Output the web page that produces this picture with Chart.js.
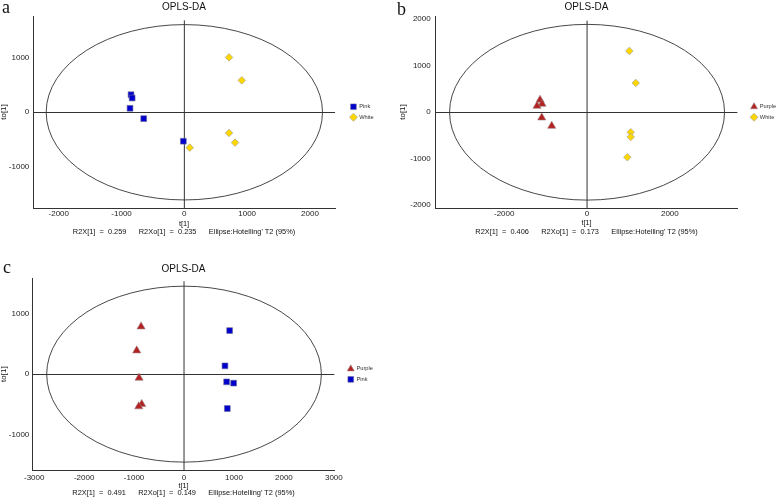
<!DOCTYPE html>
<html>
<head>
<meta charset="utf-8">
<script src="https://cdn.jsdelivr.net/npm/chart.js@4.4.1/dist/chart.umd.min.js"></script>
<style>
html, body { margin: 0; padding: 0; background: #fff; overflow: hidden; width: 777px; height: 499px; position: relative; }
canvas { position: absolute; display: block; }
.tag { position: absolute; font-family: 'Liberation Serif', 'Times New Roman', serif; font-size: 18px; line-height: 18px; color: #111; }
</style>
</head>
<body>
<canvas id="pa" width="390" height="250" style="left:0;top:0"></canvas>
<canvas id="pb" width="400" height="250" style="left:390px;top:0"></canvas>
<canvas id="pc" width="390" height="249" style="left:0;top:250px"></canvas>
<div class="tag" style="left:2px;top:-2px">a</div>
<div class="tag" style="left:397px;top:0px">b</div>
<div class="tag" style="left:3px;top:258px">c</div>
<script>
// scores
const aPinkX = [-849, -831, -865, -647, -16];
const aPinkY = [323, 262, 73, -117, -532];
const aWhiteX = [712, 914, 712, 807, 86];
const aWhiteY = [1009, 587, -380, -558, -650];

const bPurpleX = [-1135, -1087, -1208, -1094, -853];
const bPurpleY = [265, 178, 135, -116, -295];
const bWhiteX = [1022, 1176, 1055, 1055, 973];
const bWhiteY = [1318, 630, -430, -531, -968];

const cPurpleX = [-860, -947, -900, -847, -907];
const cPurpleY = [784, 389, -61, -494, -533];
const cPinkX = [913, 820, 853, 993, 867];
const cPinkY = [719, 137, -127, -148, -566];

// tick labels
const aXTicks = [-2000, -1000, 0, 1000, 2000];
const aYTicks = [-1000, 0, 1000];
const bXTicks = [-2000, 0, 2000];
const bYTicks = [-2000, -1000, 0, 1000, 2000];
const cXTicks = [-3000, -2000, -1000, 0, 1000, 2000, 3000];
const cYTicks = [-1000, 0, 1000];

// Hotelling T2 ellipse half axes [t1, to1]
const aEllipse = [2200, 1612];
const bEllipse = [3320, 1890];
const cEllipse = [2750, 1450];

const aStats = ['0.259', '0.235'];
const bStats = ['0.406', '0.173'];
const cStats = ['0.491', '0.149'];

const FONT = "'Liberation Sans', Arial, sans-serif";

const groupStyle = {
    Pink:   { pointStyle: 'rect',     pointRadius: 4.1, backgroundColor: '#0000cc', borderColor: '#6a6a9a' },
    White:  { pointStyle: 'rectRot',  pointRadius: 3.8, backgroundColor: '#ffd700', borderColor: '#9a9a9a' },
    Purple: { pointStyle: 'triangle', pointRadius: 4.7, backgroundColor: '#b22222', borderColor: '#a08080' }
};

function pts(xs, ys) {
    return xs.map((x, i) => ({ x: x, y: ys[i] }));
}

const ellipsePlugin = {
    id: 'hotelling',
    beforeDatasetsDraw(chart, args, opts) {
        const ctx = chart.ctx;
        const xs = chart.scales.x, ys = chart.scales.y;
        const cx = xs.getPixelForValue(0), cy = ys.getPixelForValue(0);
        const rx = xs.getPixelForValue(opts.a) - cx;
        const ry = cy - ys.getPixelForValue(opts.b);
        ctx.save();
        ctx.beginPath();
        ctx.ellipse(cx, cy, rx, ry, 0, 0, Math.PI * 2);
        ctx.strokeStyle = '#333';
        ctx.lineWidth = 0.9;
        ctx.stroke();
        ctx.restore();
    }
};

function makePanel(id, p) {
    const sets = p.groups.map(g => Object.assign({
        label: g.name,
        data: pts(g.x, g.y),
        borderWidth: 0.6,
        pointHoverRadius: groupStyle[g.name].pointRadius
    }, groupStyle[g.name]));
    sets.push({
        label: 'v0',
        guide: true,
        data: [{ x: 0, y: p.yMin }, { x: 0, y: p.vTop }],
        showLine: true,
        pointRadius: 0,
        borderColor: '#333',
        borderWidth: 1
    });
    const sub = 'R2X[1]  =  ' + p.stats[0] + '      R2Xo[1]  =  ' + p.stats[1] + "      Ellipse:Hotelling' T2 (95%)";

    return new Chart(document.getElementById(id), {
        type: 'scatter',
        data: { datasets: sets },
        options: {
            responsive: false,
            animation: false,
            events: [],
            layout: { padding: { left: 0, right: p.padRight, top: 0, bottom: 0 } },
            plugins: {
                title: {
                    display: true, text: 'OPLS-DA', fullSize: false, color: '#111',
                    font: { family: FONT, size: 10, weight: 'normal' },
                    padding: { top: p.titleTop, bottom: p.titleBottom }
                },
                legend: {
                    position: 'right', fullSize: false,
                    labels: {
                        usePointStyle: true, boxWidth: 5.7, boxHeight: 5.7, padding: 4.8,
                        color: '#333', font: { family: FONT, size: 5.7 },
                        filter: (item, data) => !data.datasets[item.datasetIndex].guide
                    }
                },
                tooltip: { enabled: false },
                hotelling: { a: p.ellipse[0], b: p.ellipse[1] }
            },
            scales: {
                x: {
                    type: 'linear', position: 'bottom', min: p.xMin, max: p.xMax,
                    afterFit: s => { s.height = p.xH; },
                    afterBuildTicks: s => { s.ticks = p.xTicks.map(v => ({ value: v })); },
                    grid: { display: false, drawTicks: false },
                    border: { display: true, color: '#333', width: 1 },
                    ticks: {
                        autoSkip: false, maxRotation: 0,
                        padding: p.xTickPad, color: '#222', font: { family: FONT, size: 8 },
                        callback: v => String(v)
                    },
                    title: {
                        display: true, text: ['t[1]', sub], color: '#111',
                        font: { family: FONT, size: 7.4, lineHeight: p.xLH },
                        padding: { top: 0, bottom: p.xTitlePad }
                    }
                },
                y: {
                    type: 'linear', position: 'left', min: p.yMin, max: p.yMax,
                    afterFit: s => { s.width = p.yW; },
                    afterBuildTicks: s => { s.ticks = p.yTicks.map(v => ({ value: v })); },
                    grid: {
                        drawTicks: false, lineWidth: 1,
                        color: c => (c.tick && c.tick.value === 0) ? '#333' : 'rgba(0,0,0,0)'
                    },
                    border: { display: true, color: '#333', width: 1 },
                    ticks: {
                        autoSkip: false,
                        padding: p.yTickPad, color: '#222', font: { family: FONT, size: 8 },
                        callback: v => String(v)
                    },
                    title: {
                        display: true, text: 'to[1]', color: '#111',
                        font: { family: FONT, size: 8, lineHeight: 1 },
                        padding: { top: p.yTitlePad, bottom: 0 }
                    }
                },
                gap: {
                    type: 'linear', position: 'right', display: true,
                    afterFit: s => { s.width = p.gap; },
                    grid: { display: false },
                    border: { display: false },
                    ticks: { display: false }
                }
            }
        },
        plugins: [ellipsePlugin]
    });
}

makePanel('pa', {
    groups: [{ name: 'Pink', x: aPinkX, y: aPinkY }, { name: 'White', x: aWhiteX, y: aWhiteY }],
    ellipse: aEllipse, stats: aStats, xTicks: aXTicks, yTicks: aYTicks,
    xMin: -2410, xMax: 2400, yMin: -1760, yMax: 1770, vTop: 1690,
    yW: 33, xH: 42, gap: 10.75, padRight: 6.3,
    titleTop: 1.3, titleBottom: 2.7, xTickPad: 0.5, xLH: 1.04, xTitlePad: 14.4,
    yTickPad: 3.7, yTitlePad: 0
});

makePanel('pb', {
    groups: [{ name: 'Purple', x: bPurpleX, y: bPurpleY }, { name: 'White', x: bWhiteX, y: bWhiteY }],
    ellipse: bEllipse, stats: bStats, xTicks: bXTicks, yTicks: bYTicks,
    xMin: -3655, xMax: 3630, yMin: -2060, yMax: 2070, vTop: 1970,
    yW: 45.7, xH: 42, gap: 9.05, padRight: 3.8,
    titleTop: 1.3, titleBottom: 2.7, xTickPad: 0.5, xLH: 1.1, xTitlePad: 14.4,
    yTickPad: 5, yTitlePad: 8.5
});

makePanel('pc', {
    groups: [{ name: 'Purple', x: cPurpleX, y: cPurpleY }, { name: 'Pink', x: cPinkX, y: cPinkY }],
    ellipse: cEllipse, stats: cStats, xTicks: cXTicks, yTicks: cYTicks,
    xMin: -3030, xMax: 3010, yMin: -1580, yMax: 1580, vTop: 1530,
    yW: 32.7, xH: 29, gap: 8.75, padRight: 7.1,
    titleTop: 13, titleBottom: 3.3, xTickPad: 2.9, xLH: 0.99, xTitlePad: 2,
    yTickPad: 3.4, yTitlePad: 0
});
</script>
</body>
</html>
